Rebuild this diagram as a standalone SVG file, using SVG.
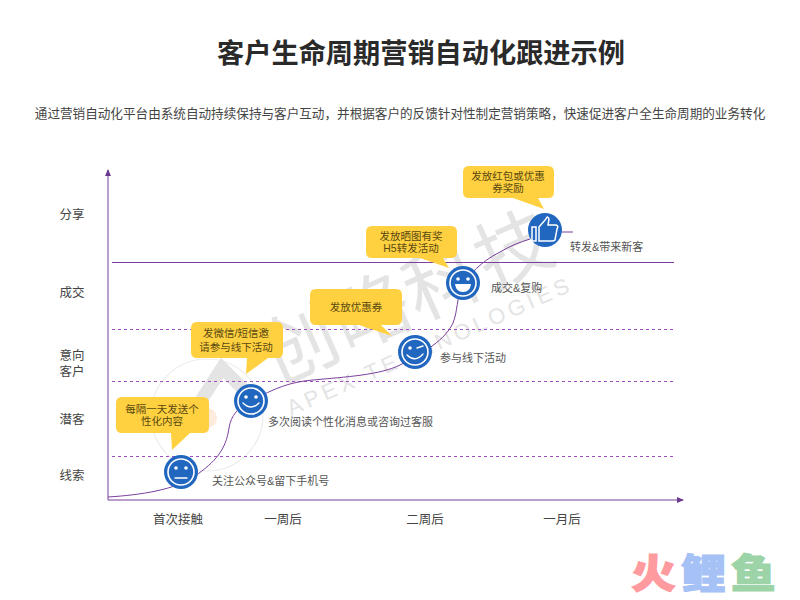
<svg xmlns="http://www.w3.org/2000/svg" width="800" height="600" viewBox="0 0 800 600">
<style>
text{font-family:"Liberation Sans","Noto Sans CJK SC",sans-serif}
.t{font-size:11px;fill:#555}
.l{font-size:12.5px;fill:#444;text-anchor:middle}
.b{fill:#ffd040}
.bt{font-size:10.5px;fill:#5a4a10;text-anchor:middle}
.d{stroke:#a050c0;stroke-width:1;stroke-dasharray:3 3;fill:none}
.a{stroke:#7b3f9e;stroke-width:1;fill:none}
.face{fill:#2167c0}
.ring{fill:none;stroke:#fff;stroke-width:1.6}
.fl{fill:none;stroke:#fff;stroke-width:1.4;stroke-linecap:round}
.wm{fill:#e4e4e4}
.lg{font-size:40px;font-weight:900;stroke-width:1.2px}
</style>
<defs>
<marker id="ah" markerWidth="8" markerHeight="8" refX="6" refY="3" orient="auto" markerUnits="userSpaceOnUse"><path d="M0 0L7 3L0 6Z" fill="#6b3a90"/></marker>
</defs>
<rect width="800" height="600" fill="#fff"/>
<g id="watermark">
<circle cx="207" cy="415" r="56" fill="none" stroke="#ececec" stroke-width="1.2"/>
<path d="M178 436L222 368L252 398" fill="none" stroke="#e4e4e4" stroke-width="13"/>
<circle cx="207" cy="418" r="10" fill="#fdebdc"/>
<text class="wm" transform="translate(276 385) rotate(-24)" style="font-size:76px" letter-spacing="2">创略科技</text>
<text class="wm" transform="translate(291 416) rotate(-24)" style="font-size:22px" letter-spacing="4.2">APEX TECHNOLOGIES</text>
</g>
<text x="421" y="63" style="font-size:27.2px;font-weight:700;text-anchor:middle;fill:#2a2a2a">客户生命周期营销自动化跟进示例</text>
<text x="400" y="118" style="font-size:12.6px;text-anchor:middle;fill:#444">通过营销自动化平台由系统自动持续保持与客户互动，并根据客户的反馈针对性制定营销策略，快速促进客户全生命周期的业务转化</text>
<g id="connectors">
<path class="a" d="M108 500V170" marker-end="url(#ah)"/>
<path class="a" d="M108 500H683" marker-end="url(#ah)"/>
<path class="a" d="M112 262.500H674"/>
<path class="d" d="M112 329.500H674"/>
<path class="d" d="M112 381.500H674"/>
<path class="d" d="M112 456.500H674"/>
<path class="a" d="M108 497C140 495 175 490 195 476C215 462 226 450 229 428C231 415 238 408 251 401C275 388 290 382 313 380C345 377 380 375 400 365C425 352 445 340 453 323C458 310 456 300 463 283C470 275 480 262 500 252C510 246 520 242 530 239M562 232H573"/>
</g>
<g id="axis-labels">
<text class="l" x="72" y="219">分享</text>
<text class="l" x="72" y="297">成交</text>
<text class="l" x="72" y="360">意向</text>
<text class="l" x="72" y="376">客户</text>
<text class="l" x="72" y="424">潜客</text>
<text class="l" x="72" y="480">线索</text>
<text class="l" x="178" y="524">首次接触</text>
<text class="l" x="283" y="524">一周后</text>
<text class="l" x="425" y="524">二周后</text>
<text class="l" x="562" y="524">一月后</text>
</g>
<g id="node-1">
<path class="b" d="M122 397H203Q209 397 209 403V427Q209 433 203 433H190L172 450L171 433H122Q116 433 116 427V403Q116 397 122 397Z"/>
<text class="bt" x="162" y="413">每隔一天发送个</text>
<text class="bt" x="162" y="425">性化内容</text>
<circle class="face" cx="181" cy="472" r="17"/><circle class="ring" cx="181" cy="472" r="13"/>
<circle cx="176" cy="468" r="1.800" fill="#fff"/><circle cx="186" cy="468" r="1.800" fill="#fff"/><path class="fl" d="M175 478H187"/>
<text class="t" x="212" y="485">关注公众号&amp;留下手机号</text>
</g>
<g id="node-2">
<path class="b" d="M197 322H277Q283 322 283 328V352Q283 358 277 358H268L246 374L247 358H197Q191 358 191 352V328Q191 322 197 322Z"/>
<text class="bt" x="236" y="337">发微信/短信邀</text>
<text class="bt" x="236" y="351">请参与线下活动</text>
<circle class="face" cx="251" cy="401" r="17"/><circle class="ring" cx="251" cy="401" r="13"/>
<circle cx="246" cy="397" r="1.800" fill="#fff"/><circle cx="256" cy="397" r="1.800" fill="#fff"/><path class="fl" d="M243 403Q251 411 259 403"/>
<text class="t" x="268" y="426">多次阅读个性化消息或咨询过客服</text>
</g>
<g id="node-3">
<path class="b" d="M316 289H396Q402 289 402 295V319Q402 325 396 325H381L392 336L359 325H316Q310 325 310 319V295Q310 289 316 289Z"/>
<text class="bt" x="356" y="311">发放优惠券</text>
<circle class="face" cx="415" cy="352" r="17"/><circle class="ring" cx="415" cy="352" r="13"/>
<circle cx="410" cy="348" r="1.800" fill="#fff"/><path class="fl" d="M417 348L423 346"/><path class="fl" d="M407 355Q415 363 423 354"/>
<text class="t" x="440" y="362">参与线下活动</text>
</g>
<g id="node-4">
<path class="b" d="M372 226H451Q457 226 457 232V252Q457 258 451 258H443L449 268L420 258H372Q366 258 366 252V232Q366 226 372 226Z"/>
<text class="bt" x="411" y="240">发放晒图有奖</text>
<text class="bt" x="411" y="252">H5转发活动</text>
<circle class="face" cx="463" cy="283" r="17"/><circle class="ring" cx="463" cy="283" r="13"/>
<circle cx="458" cy="279" r="1.800" fill="#fff"/><circle cx="468" cy="279" r="1.800" fill="#fff"/><path d="M455 284H471Q470 292 463 292Q456 292 455 284Z" fill="#fff"/>
<text class="t" x="491" y="292">成交&amp;复购</text>
</g>
<g id="node-5">
<path class="b" d="M469 166H548Q554 166 554 172V192Q554 198 548 198H538L544 209L513 198H469Q463 198 463 192V172Q463 166 469 166Z"/>
<text class="bt" x="508" y="180">发放红包或优惠</text>
<text class="bt" x="508" y="192">券奖励</text>
<circle class="face" cx="545" cy="230" r="17"/>
<path d="M536 227V241H532V227ZM539 227L546 219Q547 215 549 219L548 225H556Q559 226 557 229L555 240Q554 241 552 241H539Z" fill="none" stroke="#fff" stroke-width="1.500"/>
<text class="t" x="570" y="251">转发&amp;带来新客</text>
</g>
<g id="logo">
<text class="lg" transform="translate(631 588) scale(1.12 1)" style="fill:#ff9a9e;stroke:#ff9a9e">火</text>
<text class="lg" transform="translate(681 588) scale(1.12 1)" style="fill:#a6c1f5;stroke:#a6c1f5">鲤</text>
<text class="lg" transform="translate(731 588) scale(1.12 1)" style="fill:#9cd4a8;stroke:#9cd4a8">鱼</text>
</g>
</svg>
